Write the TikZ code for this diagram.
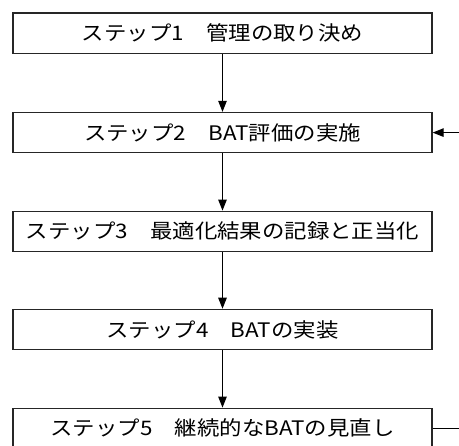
\documentclass[tikz,border=0pt]{standalone}
\usepackage{fontspec}
\newfontfamily\jpfont[FakeStretch=1.12]{Noto Sans CJK JP}
\usetikzlibrary{arrows.meta}
\begin{document}
\begin{tikzpicture}[x=1pt,y=1pt,
  stepbox/.style={draw=black!85,line width=1.2pt,minimum width=419pt,minimum height=40.3pt,inner sep=0pt,font=\jpfont\fontsize{20pt}{23pt}\selectfont},
  flow/.style={draw=black,line width=1pt,-{Triangle[width=8.5pt,length=11pt]}}]
\useasboundingbox (0,-446) rectangle (459,0);
\clip (0,-446) rectangle (459,0);
\node[stepbox] (s1) at (222.5,-33.2) {ステップ1　管理の取り決め};
\node[stepbox] (s2) at (222.5,-132.6) {ステップ2　BAT評価の実施};
\node[stepbox] (s3) at (222.5,-231.4) {ステップ3　最適化結果の記録と正当化};
\node[stepbox] (s4) at (222.5,-329.5) {ステップ4　BATの実装};
\node[stepbox] (s5) at (222.5,-428.3) {ステップ5　継続的なBATの見直し};
\coordinate (r5) at (480,-428.3);
\coordinate (r2) at (480,-132.6);
\draw[flow] (s1) -- (s2);
\draw[flow] (s2) -- (s3);
\draw[flow] (s3) -- (s4);
\draw[flow] (s4) -- (s5);
\draw[flow] (s5.east) -- (r5) -- (r2) -- (s2.east);
\end{tikzpicture}
\end{document}
